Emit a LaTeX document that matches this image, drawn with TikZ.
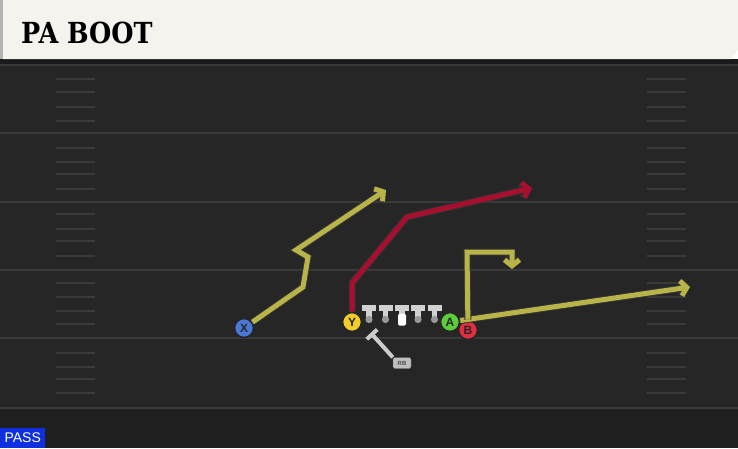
\documentclass[tikz,border=0pt]{standalone}
\usepackage{fontspec}
\usetikzlibrary{arrows.meta}
\usetikzlibrary{positioning}
\newfontfamily\titlefont{DejaVu Serif}
\newfontfamily\labelfont{Liberation Sans}
\definecolor{paper}{HTML}{F5F3ED}
\definecolor{field}{HTML}{262626}
\definecolor{fieldlow}{HTML}{1F1F1F}
\definecolor{band}{HTML}{1A1A1A}
\definecolor{yardline}{HTML}{3A3A3A}
\definecolor{olive}{HTML}{B8B44A}
\definecolor{mred}{HTML}{A80F2F}
\definecolor{xblue}{HTML}{4A78D8}
\definecolor{yyellow}{HTML}{F2CC2A}
\definecolor{agreen}{HTML}{5CCC3A}
\definecolor{bred}{HTML}{E03040}
\definecolor{passblue}{HTML}{1030E0}
\tikzset{route/.style = {draw=#1, line width=5, line join=miter,
                         -{Straight Barb[length=6pt, width=15pt]},
                         preaction={draw=black!80, line width=7}}}
\tikzset{player/.style = {circle, draw=black!85, line width=1.6, fill=#1,
                          minimum size=19, inner sep=0, text=black!85,
                          font=\labelfont\bfseries\fontsize{12}{12}\selectfont}}
\tikzset{hash/.style = {yardline, line width=1.2}}
\tikzset{lineman/.style = {fill=black!18}}
\tikzset{dot/.style = {fill=black!40}}

\begin{document}
\begin{tikzpicture}[x=1pt, y=-1pt]
    \useasboundingbox (0, 0) rectangle (738, 448);

    % field
    \fill [field] (0, 59) rectangle (738, 408);
    \fill [fieldlow] (0, 408) rectangle (738, 448);
    \fill [band] (0, 59) rectangle (738, 65);
    \foreach \yl in {65, 133, 202, 270, 338, 408}
      \draw [yardline, line width=1.5] (0, \yl) -- (738, \yl);
    \foreach \ya in {79, 92, 107, 121, 148, 162, 174, 189, 214, 229, 241, 256,
                     283, 297, 311, 324, 353, 367, 379, 393} {
      \draw [hash] (56, \ya) -- (95, \ya);
      \draw [hash] (647, \ya) -- (686, \ya);
    }

    % header
    \fill [paper] (3, 0) -- (738, 0) -- (738, 50) -- (731, 59) -- (3, 59) -- cycle;
    \fill [black!30] (0, 0) rectangle (3, 59);
    \node [anchor = base west, inner sep = 0,
           font = \titlefont\bfseries\fontsize{29}{29}\selectfont] (title) at (21, 43)
          {\scalebox{0.88}[1]{PA BOOT}};

    % line
    \foreach \lx in {369, 385.5, 418, 434.5} {
      \fill [lineman] (\lx-7, 304.5) rectangle (\lx+7, 310.5);
      \fill [lineman] (\lx-2.8, 304.5) rectangle (\lx+2.8, 319);
      \fill [dot] (\lx, 319.5) circle (3.6);
    }
    \fill [lineman] (395, 304.5) rectangle (409, 310.5);
    \fill [lineman] (399.2, 304.5) rectangle (404.8, 314);
    \fill [white, rounded corners=1.5] (398, 313.5) rectangle (406, 325.5);

    % players
    \node [player = xblue] (x) at (244, 328) {X};
    \node [player = yyellow] (y) at (352, 322) {Y};
    \node [player = agreen] (a) at (450, 322) {A};
    \node [player = bred] (b) at (468, 330) {B};

    % back
    \node [fill = black!25, draw = black!60, rounded corners = 2, inner sep = 0,
           minimum width = 18, minimum height = 11, text = black!70,
           font = \labelfont\bfseries\fontsize{6}{6}\selectfont] (rb) at (402, 363) {RB};
    \coordinate (rbtop) at (372, 334.3);
    \draw [black!20, line width = 4] (rbtop) -- (rb.north west);
    \draw [black!20, line width = 4] (366.8, 339.2) -- (377.2, 329.5);

    % routes
    \coordinate (xend) at (386, 190);
    \coordinate (yend) at (532, 188);
    \coordinate (aend) at (690, 287);
    \coordinate (bend) at (512, 269);
    \draw [route = olive] (x) -- (303, 287) -- (308, 257) -- (296, 250) -- (xend);
    \draw [route = mred] (y) -- (352, 283) -- (407, 217) -- (yend);
    \draw [route = olive] (a) -- (aend);
    \draw [route = olive] (b) -- (467, 252) -- (512, 252) -- (bend);

    % tag
    \node [fill = passblue, text = white, inner sep = 0, minimum width = 45,
           minimum height = 20, anchor = south west,
           font = \labelfont\fontsize{14}{14}\selectfont] (pass) at (0, 448) {PASS};
  \end{tikzpicture}
\end{document}
